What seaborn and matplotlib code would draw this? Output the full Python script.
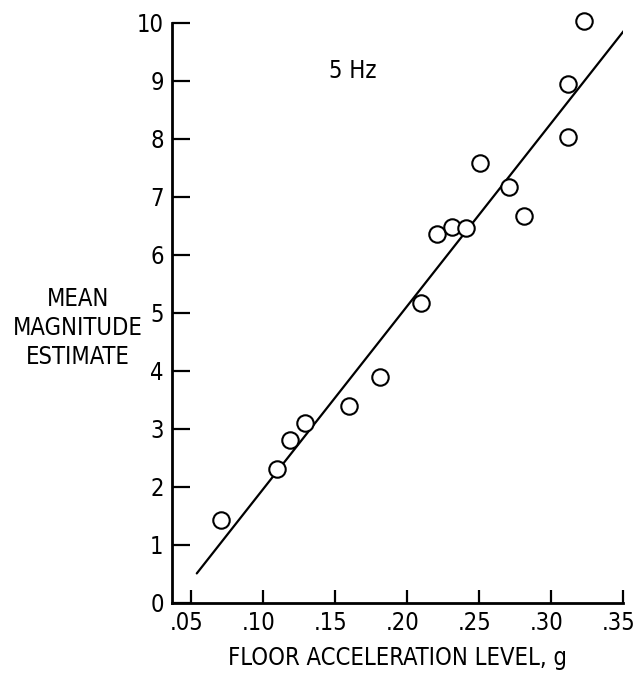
import matplotlib
matplotlib.use("Agg")
import matplotlib.pyplot as plt
import matplotlib.transforms as mtransforms
import seaborn as sns
import pandas as pd

# Data
accel = [0.071, 0.110, 0.119, 0.129, 0.160, 0.181, 0.210, 0.221, 0.231, 0.241,
         0.251, 0.271, 0.281, 0.312, 0.312, 0.323]
magnitude = [1.43, 2.31, 2.81, 3.10, 3.40, 3.89, 5.18, 6.37, 6.49, 6.47,
             7.59, 7.17, 6.67, 8.95, 8.04, 10.04]
fit_x = [0.054, 0.352]
fit_y = [0.51, 9.91]
xticks = [0.05, 0.10, 0.15, 0.20, 0.25, 0.30, 0.35]
xtick_labels = [".05", ".10", ".15", ".20", ".25", ".30", ".35"]
yticks = list(range(0, 11))

sns.set_style("ticks")
plt.rcParams['font.family'] = ['DejaVu Sans']
plt.rcParams['font.stretch'] = 'condensed'
for k in ["text.color", "axes.labelcolor", "xtick.color", "ytick.color", "axes.edgecolor"]:
    plt.rcParams[k] = "black"

df = pd.DataFrame({"x": accel, "y": magnitude})
fit = pd.DataFrame({"x": fit_x, "y": fit_y})

fig = plt.figure(figsize=(6.38, 6.8), dpi=100)
ax = fig.add_axes([172 / 638, (680 - 603) / 680, (623 - 172) / 638, 580 / 680])

sns.lineplot(data=fit, x="x", y="y", ax=ax, color="black", linewidth=1.6)
sns.scatterplot(data=df, x="x", y="y", ax=ax, s=140, facecolor="white",
                edgecolor="black", linewidth=1.5, zorder=3, clip_on=False)

ax.set_xlim(0.0368, 0.35)
ax.set_ylim(0, 10)
ax.set_xticks(xticks)
ax.set_xticklabels(xtick_labels)
ax.set_yticks(yticks)
ax.set_yticklabels([str(v) for v in yticks])
for s in ["top", "right"]:
    ax.spines[s].set_visible(False)
for s in ["left", "bottom"]:
    ax.spines[s].set_linewidth(2.0)
    ax.spines[s].set_color("black")
ax.tick_params(axis="y", direction="in", length=13, width=1.6, pad=6, labelsize=17)
ax.tick_params(axis="x", direction="in", length=9.5, width=1.6, pad=6, labelsize=17)
shift = mtransforms.ScaledTranslation(-4 / 100, 0, fig.dpi_scale_trans)
for lab in ax.get_xticklabels():
    lab.set_transform(lab.get_transform() + shift)
ax.set_xlabel("FLOOR ACCELERATION LEVEL, g", fontsize=17, labelpad=8)
ax.set_ylabel("")
ax.patch.set_alpha(0)

fig.text(78 / 638, 1 - 328 / 680, "MEAN\nMAGNITUDE\nESTIMATE", ha="center", va="center",
         fontsize=17, linespacing=1.25)
ax.text(0.162, 9.17, "5 Hz", ha="center", va="center", fontsize=17)

fig.savefig("out.png", dpi=100)
